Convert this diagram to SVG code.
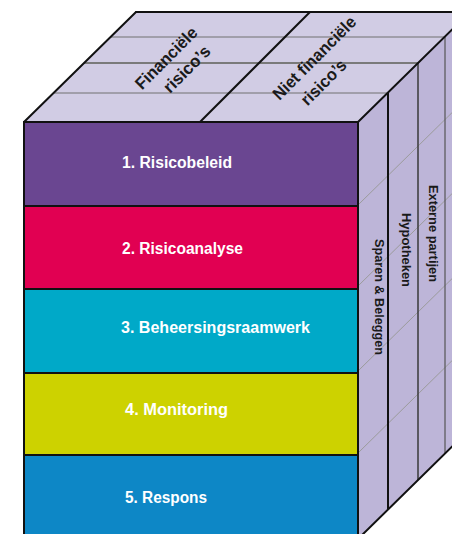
<svg xmlns="http://www.w3.org/2000/svg" width="452" height="534" viewBox="0 0 452 534">
  <style>
    .edge { stroke: #111; stroke-width: 2; fill: none; stroke-linecap: round; }
    .sep { stroke: #111; stroke-width: 2; }
    .thin { stroke: #707070; stroke-width: 1; }
    .mid { stroke: #7a7a7a; stroke-width: 2; }
    .diag { stroke: #9b9b9b; stroke-width: 1; fill: none; }
    .lbl { font-family: "Liberation Sans", Arial, sans-serif; font-weight: bold; font-size: 16px; fill: #ffffff; }
    .dim { font-family: "Liberation Sans", Arial, sans-serif; font-weight: bold; fill: #1a1a1a; }
  </style>

  <!-- Top face -->
  <g id="top-face">
    <polygon points="24,122 136,12 470,12 358,122" fill="#d1cce4"/>
    <line class="thin" x1="53.5" y1="93" x2="387.5" y2="93"/>
    <line class="mid" x1="84" y1="63" x2="418" y2="63"/>
    <line class="thin" x1="110.5" y1="37" x2="444.5" y2="37"/>
    <line class="sep" x1="200" y1="122" x2="310" y2="12"/>
    <line class="edge" x1="136" y1="12" x2="470" y2="12"/>
    <line class="edge" x1="24" y1="122" x2="136" y2="12"/>
    <text class="dim" font-size="17" transform="translate(142,90.5) rotate(-45)" textLength="80" lengthAdjust="spacingAndGlyphs">Financiële</text>
    <text class="dim" font-size="17" transform="translate(170,94) rotate(-45)" textLength="59" lengthAdjust="spacingAndGlyphs">risico’s</text>
    <text class="dim" font-size="17" transform="translate(279.5,101) rotate(-45)" textLength="110" lengthAdjust="spacingAndGlyphs">Niet financiële</text>
    <text class="dim" font-size="17" transform="translate(307.5,106.5) rotate(-45)" textLength="57" lengthAdjust="spacingAndGlyphs">risico’s</text>
  </g>

  <!-- Side face -->
  <g id="side-face">
    <polygon points="358,122 470,12 470,429 358,539" fill="#bdb5d8"/>
    <path class="diag" d="M358,205 L470,95 M358,286 L470,176 M358,371 L470,261 M358,453 L470,343"/>
    <line x1="388" y1="93" x2="388" y2="509.5" stroke="#111" stroke-width="2"/>
    <line x1="418" y1="63" x2="418" y2="480" stroke="#3a3a3a" stroke-width="1.5"/>
    <line x1="445" y1="36" x2="445" y2="453.5" stroke="#555" stroke-width="1.2"/>
    <line class="edge" x1="358" y1="122" x2="470" y2="12"/>
    <line class="edge" x1="358" y1="539" x2="470" y2="429"/>
    <text class="dim" font-size="13.5" text-anchor="middle" transform="translate(374.5,297) rotate(90)" textLength="116" lengthAdjust="spacingAndGlyphs">Sparen &amp; Beleggen</text>
    <text class="dim" font-size="13.5" text-anchor="middle" transform="translate(401.5,250) rotate(90)" textLength="74" lengthAdjust="spacingAndGlyphs">Hypotheken</text>
    <text class="dim" font-size="13.5" text-anchor="middle" transform="translate(429,233.5) rotate(90)" textLength="97" lengthAdjust="spacingAndGlyphs">Externe partijen</text>
  </g>

  <!-- Front face bands -->
  <g id="band-1">
    <rect x="24" y="122" width="334" height="84" fill="#6a4691"/>
    <text class="lbl" x="122" y="168" textLength="110" lengthAdjust="spacingAndGlyphs">1. Risicobeleid</text>
  </g>
  <g id="band-2">
    <rect x="24" y="206" width="334" height="83" fill="#e10052"/>
    <text class="lbl" x="122" y="254" textLength="121" lengthAdjust="spacingAndGlyphs">2. Risicoanalyse</text>
  </g>
  <g id="band-3">
    <rect x="24" y="289" width="334" height="84" fill="#00a9c8"/>
    <text class="lbl" x="121" y="333" textLength="189" lengthAdjust="spacingAndGlyphs">3. Beheersingsraamwerk</text>
  </g>
  <g id="band-4">
    <rect x="24" y="373" width="334" height="82" fill="#cdd200"/>
    <text class="lbl" x="125" y="415" textLength="103" lengthAdjust="spacingAndGlyphs">4. Monitoring</text>
  </g>
  <g id="band-5">
    <rect x="24" y="455" width="334" height="84" fill="#0d87c6"/>
    <text class="lbl" x="125" y="503" textLength="82" lengthAdjust="spacingAndGlyphs">5. Respons</text>
  </g>

  <g id="front-lines">
    <line class="sep" x1="24" y1="206" x2="358" y2="206"/>
    <line class="sep" x1="24" y1="289" x2="358" y2="289"/>
    <line class="sep" x1="24" y1="373" x2="358" y2="373"/>
    <line class="sep" x1="24" y1="455" x2="358" y2="455"/>
    <rect class="edge" x="24" y="122" width="334" height="417"/>
  </g>
</svg>
